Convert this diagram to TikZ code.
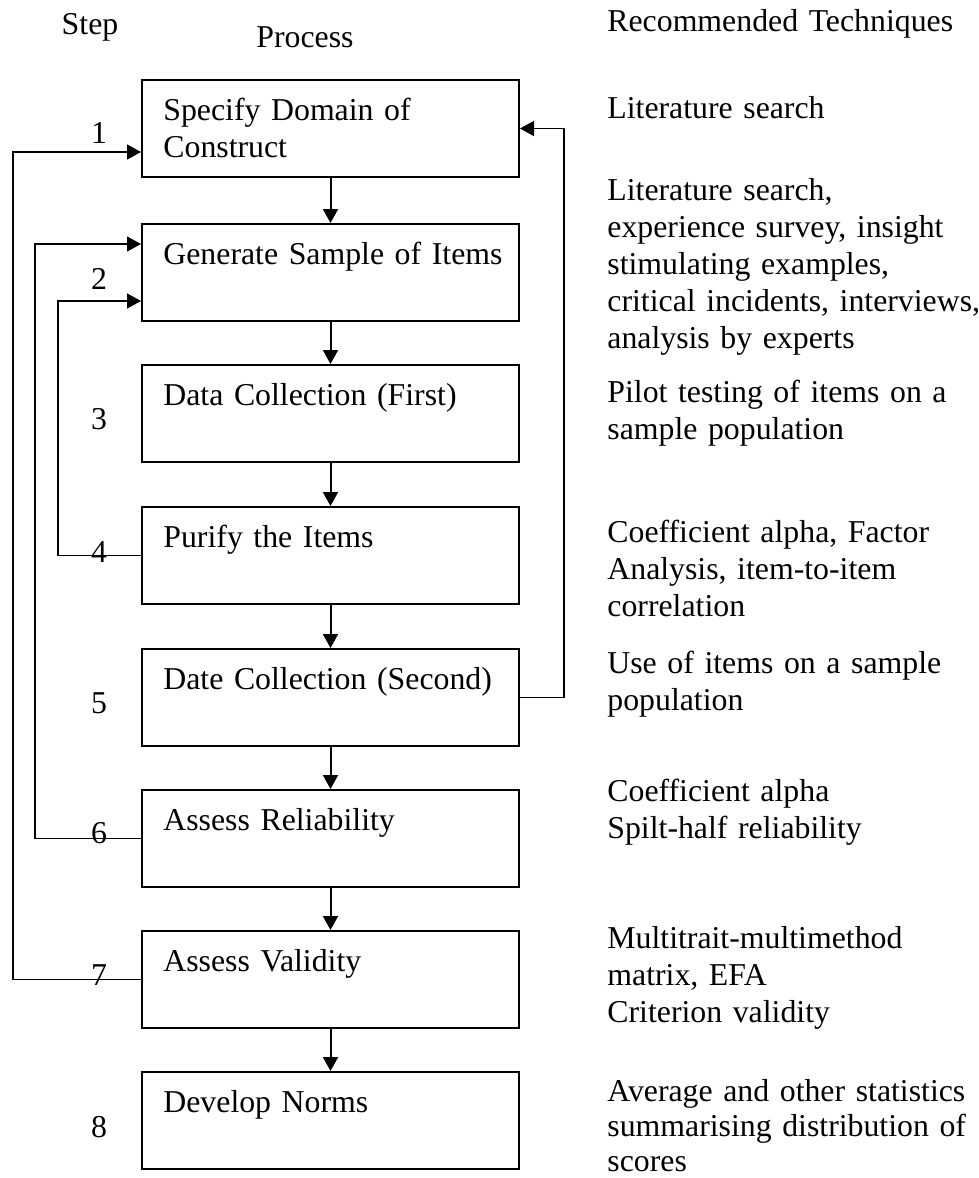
\documentclass[tikz,border=0pt]{standalone}
\usepackage{fontspec}
\setmainfont{Liberation Serif}
\usepackage{tikz}
\usetikzlibrary{arrows.meta}
\usetikzlibrary{calc}

\tikzset{
  stage/.style={draw, line width=1pt, minimum width=188.5pt, minimum height=48.5pt, inner sep=0pt},
  txt/.style={anchor=base west, inner sep=0pt, text width=185pt, align=left, font=\fontsize{15.9}{18.6}\selectfont},
  num/.style={anchor=base, inner sep=0pt, font=\fontsize{15.9}{18.6}\selectfont},
  flow/.style={line width=1pt, -{Triangle[length=7pt, width=7.5pt]}},
  back/.style={line width=0.8pt, -{Triangle[length=7pt, width=7.5pt]}}
}

\begin{document}
\begin{tikzpicture}[x=0.5pt, y=-0.5pt]
\useasboundingbox (0,0) rectangle (979,1178);

\node[num] (hstep) at (90,34) {Step};
\node[num] (hproc) at (305,47) {Process};
\node[txt] (htech) at (607,32) {Recommended Techniques};

\node[stage] (s1) at (330.5,128.5) {};
\node[stage] (s2) at (330.5,272.5) {};
\node[stage] (s3) at (330.5,413.5) {};
\node[stage] (s4) at (330.5,555.5) {};
\node[stage] (s5) at (330.5,697.5) {};
\node[stage] (s6) at (330.5,838.5) {};
\node[stage] (s7) at (330.5,979.5) {};
\node[stage] (s8) at (330.5,1120.5) {};

\node[txt] (t1) at (163,120) {Specify Domain of\\Construct};
\node[txt] (t2) at (163,264) {Generate Sample of Items};
\node[txt] (t3) at (163,405) {Data Collection (First)};
\node[txt] (t4) at (163,547) {Purify the Items};
\node[txt] (t5) at (163,689) {Date Collection (Second)};
\node[txt] (t6) at (163,830) {Assess Reliability};
\node[txt] (t7) at (163,971) {Assess Validity};
\node[txt] (t8) at (163,1112) {Develop Norms};

\node[num] (n1) at (99,143) {1};
\node[num] (n2) at (99,289) {2};
\node[num] (n3) at (99,429) {3};
\node[num] (n4) at (99,562) {4};
\node[num] (n5) at (99,713) {5};
\node[num] (n6) at (99,843) {6};
\node[num] (n7) at (99,985) {7};
\node[num] (n8) at (99,1137) {8};

\node[txt] (r1) at (607,118) {Literature search};
\node[txt, text width=190pt] (r2) at (607,200) {Literature search,\\experience survey, insight\\stimulating examples,\\critical incidents, interviews,\\analysis by experts};
\node[txt] (r3) at (607,402) {Pilot testing of items on a\\sample population};
\node[txt] (r4) at (607,542) {Coefficient alpha, Factor\\Analysis, item-to-item\\correlation};
\node[txt] (r5) at (607,673) {Use of items on a sample\\population};
\node[txt] (r6) at (607,801) {Coefficient alpha\\Spilt-half reliability};
\node[txt] (r7) at (607,948) {Multitrait-multimethod\\matrix, EFA\\Criterion validity};
\node[txt, font=\fontsize{15.9}{17.6}\selectfont] (r8) at (607,1101) {Average and other statistics\\summarising distribution of\\scores};

\foreach \a/\b in {s1/s2, s2/s3, s3/s4, s4/s5, s5/s6, s6/s7, s7/s8}
  \draw[flow] (\a) -- (\b);

\coordinate (railA) at (13,0);
\coordinate (railB) at (35,0);
\coordinate (railC) at (58,0);
\coordinate (railR) at (564,0);

\draw[back] (s7.west) -- (s7.west -| railA) |- ($(s1.west)+(0,23.5)$);
\draw[back] (s6.west) -- (s6.west -| railB) |- ($(s2.west)+(0,-28.5)$);
\draw[back] (s4.west) -- (s4.west -| railC) |- ($(s2.west)+(0,28.5)$);
\draw[back] (s5.east) -- (s5.east -| railR) |- (s1.east);
\end{tikzpicture}
\end{document}
